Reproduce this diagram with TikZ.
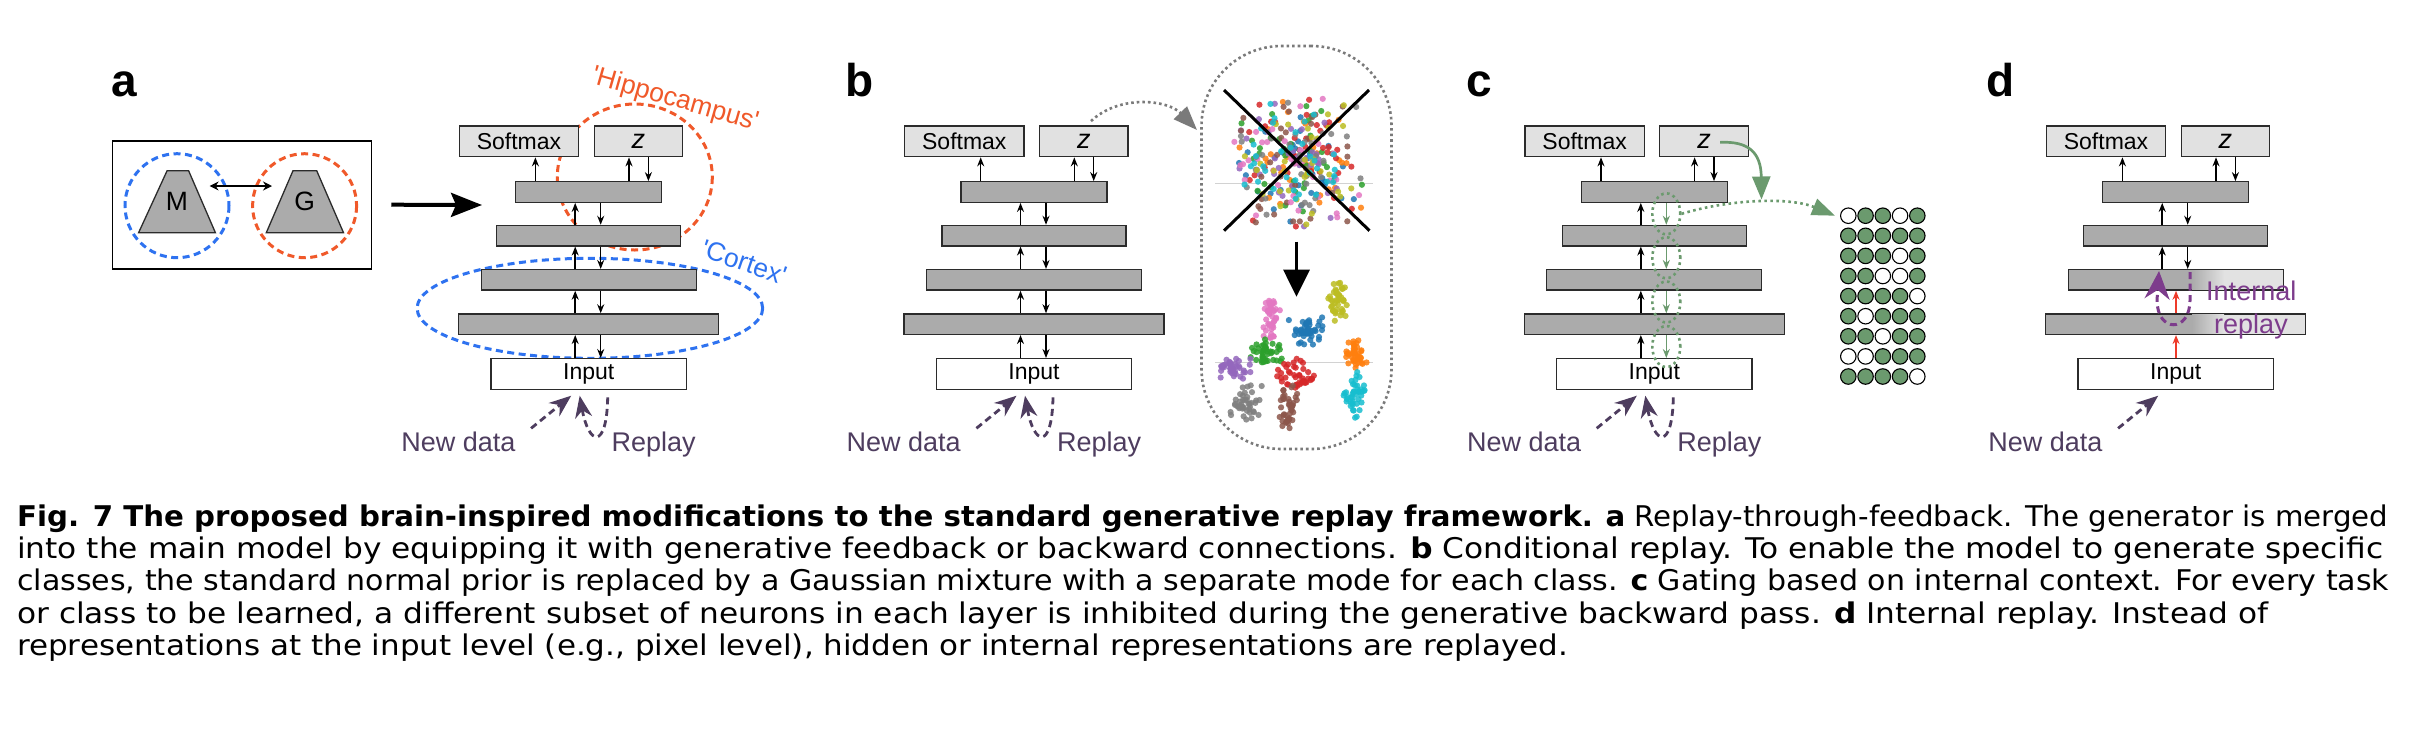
\documentclass[tikz,border=0pt]{standalone}
\usepackage{fontspec}
\usepackage{graphicx}
\setmainfont{Liberation Sans}
\newfontfamily\capfont{DejaVu Sans}
\usetikzlibrary{arrows.meta,shapes.geometric,calc}

\definecolor{laygray}{HTML}{ABABAB}
\definecolor{boxgray}{HTML}{E1E1E1}
\definecolor{edgegray}{HTML}{2B2B2B}
\definecolor{hipred}{HTML}{F0592A}
\definecolor{cortblue}{HTML}{2E72F0}
\definecolor{datpurple}{HTML}{4E3D5F}
\definecolor{looppurple}{HTML}{7D3C8C}
\definecolor{gategreen}{HTML}{6B9A6E}
\definecolor{fwdred}{HTML}{EE3B2A}
\definecolor{dotgray}{HTML}{7A7A7A}
\colorlet{fadegray}{laygray!35!white}
\colorlet{cell0}{white}
\colorlet{cell1}{gategreen}
% scatter colours
\definecolor{tblue}{HTML}{1F77B4}
\definecolor{torange}{HTML}{FF7F0E}
\definecolor{tgreen}{HTML}{2CA02C}
\definecolor{tred}{HTML}{D62728}
\definecolor{tpurple}{HTML}{9467BD}
\definecolor{tbrown}{HTML}{8C564B}
\definecolor{tpink}{HTML}{E377C2}
\definecolor{tgray}{HTML}{7F7F7F}
\definecolor{tolive}{HTML}{BCBD22}
\definecolor{tcyan}{HTML}{17BECF}

\tikzset{
  layer/.style={draw=edgegray, fill=laygray, line width=1.3pt, inner sep=0pt, minimum height=20.5pt},
  outbox/.style={draw=edgegray, fill=boxgray, line width=1.3pt, inner sep=0pt, minimum height=30.7pt, font=\fontsize{23}{23}\selectfont},
  inbox/.style={outbox, fill=white},
  fwd/.style={line width=1.5pt, -{Stealth[length=9pt,width=7pt]}},
  redfwd/.style={fwd, fwdred},
  datarrow/.style={datpurple, line width=2.8pt, dash pattern=on 7pt off 4.5pt, -{Stealth[length=22pt,width=17pt]}},
  datlabel/.style={text=datpurple, font=\fontsize{27}{27}\selectfont, anchor=base west, inner sep=0pt},
  panlabel/.style={font=\bfseries\fontsize{46}{46}\selectfont, anchor=base west, inner sep=0pt},
  ring/.style={line width=3pt, dash pattern=on 7pt off 4.5pt},
  tag/.style={font=\fontsize{26.5}{26.5}\selectfont, inner sep=0pt},
  gatering/.style={ellipse, draw=gategreen, line width=2.6pt, dash pattern=on 2.6pt off 3.4pt, minimum width=28pt, minimum height=41pt, inner sep=0pt},
  gatearrow/.style={gategreen, line width=1.5pt, -{Stealth[length=9pt,width=7pt]}},
  gatedot/.style={gategreen, line width=2.6pt, dash pattern=on 2.6pt off 3.4pt, -{Triangle[length=23pt,width=17pt]}},
  gatesolid/.style={gategreen, line width=2.7pt, -{Triangle[length=23pt,width=18pt]}},
  cell/.style={circle, draw=black, line width=1.1pt, minimum size=15.5pt, inner sep=0pt},
  looptext/.style={text=looppurple, font=\fontsize{27}{27}\selectfont, anchor=base west, inner sep=0pt},
  loopdash/.style={looppurple, line width=3pt, dash pattern=on 7pt off 4.5pt, -{Stealth[length=28pt,width=25pt]}},
  capline/.style={anchor=base west, inner sep=0pt},
}

% one network column: #1 prefix, #2 centre x
\newcommand{\drawnet}[2]{%
  \node[outbox, minimum width=119.3pt] (#1-sm) at ({#2-69.7},141.35) {Softmax};
  \node[outbox, minimum width=88.5pt] (#1-z) at ({#2+49.75},141.35) {\fontsize{27}{27}\selectfont\itshape z};
  \node[layer, minimum width=146pt] (#1-l1) at (#2,192) {};
  \node[layer, minimum width=184pt] (#1-l2) at (#2,235.65) {};
  \node[layer, minimum width=215pt] (#1-l3) at (#2,279.85) {};
  \node[layer, minimum width=260pt] (#1-l4) at (#2,324.15) {};
  \node[inbox, minimum width=195.5pt] (#1-in) at (#2,374) {Input};
  \coordinate (#1-up) at ({#2-13.5},0);
  \coordinate (#1-dn) at ({#2+12},0);
  \coordinate (#1-mid) at ({#2+0.3},0);
  \coordinate (#1-smx) at ({#2-53.3},0);
  \coordinate (#1-zup) at ({#2+40.3},0);
  \coordinate (#1-zdn) at ({#2+59.7},0);
  \draw[fwd] (#1-l1.north -| #1-smx) -- (#1-sm.south -| #1-smx);
  \draw[fwd] (#1-l1.north -| #1-zup) -- (#1-z.south -| #1-zup);
  \draw[fwd] (#1-z.south -| #1-zdn) -- (#1-l1.north -| #1-zdn);
}

% caption line stretched to a given width
\newlength\capw
\newcommand{\capsize}{\capfont\fontsize{28.5}{32}\selectfont}
\newcommand{\capfit}[2]{\settowidth{\capw}{\capsize #2}\pgfmathsetmacro{\capr}{#1/\capw}\scalebox{\capr}[1]{\capsize #2}}

\begin{document}
\begin{tikzpicture}[x=1pt,y=-1pt]
\fill[white] (0,0) rectangle (2416,740);
\useasboundingbox (0,0) rectangle (2416,740);

% panel letters
\node[panlabel] (alab) at (111,96.7) {a};
\node[panlabel] (blab) at (845.7,96.7) {b};
\node[panlabel] (clab) at (1466.7,96.7) {c};
\node[panlabel] (dlab) at (1986.7,96.7) {d};

% ---- a: model and generator
\node[draw=black, line width=1.6pt, minimum width=259pt, minimum height=128pt, inner sep=0pt] (mgbox) at (242.15,204.7) {};
\draw[ring, cortblue] (177,205.7) circle (52);
\draw[ring, hipred] (304.6,205.7) circle (52);
\draw[draw=edgegray, fill=laygray, line width=1.3pt] (138.6,232.7) -- (167.1,170.7) -- (188.6,170.7) -- (215.4,232.7) -- cycle;
\draw[draw=edgegray, fill=laygray, line width=1.3pt] (266.3,232.7) -- (293,170.7) -- (316.7,170.7) -- (343.5,232.7) -- cycle;
\node[tag] (mlab) at (177,201.2) {M};
\node[tag] (glab) at (304.6,201.2) {G};
\coordinate (mg-m) at (209.6,186);
\coordinate (mg-g) at (272,186);
\draw[line width=1.5pt, {Stealth[length=9pt,width=9pt]}-{Stealth[length=9pt,width=9pt]}] (mg-m) -- (mg-g);
\coordinate (a-goal) at (482,205);
\draw[line width=4pt, -{Stealth[length=31pt,width=24pt,inset=5pt]}] ([xshift=18.8pt]mgbox.east) -- (a-goal);

\draw[ring, hipred] (634.8,177) ellipse [x radius=77.5, y radius=73];
\draw[ring, cortblue] (589.9,308.3) ellipse [x radius=172.8, y radius=50];
\node[tag, hipred, rotate=-16] (hiplab) at (675,100) {\textquotesingle Hippocampus\textquotesingle};
\node[tag, cortblue, rotate=-19] (cortlab) at (744,262) {\textquotesingle Cortex\textquotesingle};

% ---- the four networks
\drawnet{a}{588.7}
\drawnet{b}{1034}
\drawnet{c}{1654.3}
\drawnet{d}{2175.7}

\foreach \p in {a,b} {
  \foreach \lo/\hi in {l2/l1,l3/l2,l4/l3,in/l4} {
    \draw[fwd] (\p-\lo.north -| \p-up) -- (\p-\hi.south -| \p-up);
    \draw[fwd] (\p-\hi.south -| \p-dn) -- (\p-\lo.north -| \p-dn);
  }
}

% inputs
\foreach \p/\cx in {a/588.7,b/1034,c/1654.3,d/2175.7} {
  \coordinate (\p-src) at ({\cx-57.6},428.3);
  \draw[datarrow] (\p-src) -- ([xshift=-17.5pt,yshift=-5.7pt]\p-in.south);
  \node[datlabel] (\p-ndlab) at ({\cx-187.5},451.5) {New data};
}
\foreach \p/\cx in {a/588.7,b/1034,c/1654.3} {
  \draw[datarrow] ([xshift=19pt,yshift=-7.4pt]\p-in.south) .. controls +(-1,53) and +(9,50) .. ([xshift=-9pt,yshift=-5.7pt]\p-in.south);
  \node[datlabel] (\p-rplab) at ({\cx+22.8},451.5) {Replay};
}

% ---- b: latent space
\node[draw=dotgray, line width=2.6pt, dash pattern=on 2.6pt off 3pt, rounded corners=80pt, minimum width=190pt, minimum height=403pt, inner sep=0pt] (b-view) at (1296.5,247.5) {};
\coordinate (b-goal) at (1197,130);
\draw[dotgray, line width=2.6pt, dash pattern=on 2.6pt off 3pt, -{Triangle[length=24pt,width=18pt]}] ([xshift=7.25pt,yshift=4.3pt]b-z.north) .. controls (1120,94) and (1168,100) .. (b-goal);
\draw[gray!35, line width=1pt] (1215,183.3) -- (1373,183.3);
\draw[gray!35, line width=1pt] (1215,362.7) -- (1373,362.7);
\pgfmathsetseed{11}
\foreach \c in {tblue,torange,tgreen,tred,tpurple,tbrown,tpink,tgray,tolive,tcyan} {
  \foreach \i in {1,...,34} {
    \fill[\c, opacity=.85] ({1298+36*(rand+rand)},{162+35*(rand+rand)}) circle (3.1);
  }
}
\draw[line width=3pt] (1224,90) -- (1369.5,230.7);
\draw[line width=3pt] (1369,90) -- (1224,230.7);
\draw[line width=3pt, -{Triangle[length=27pt,width=26pt]}] (1296.5,241.7) -- (1296.5,296.7);
\foreach \c/\px/\py/\sx/\sy in {tolive/1338/300/5/12, tpink/1271/321/5/13, tblue/1306/331/10/8, tgreen/1267/352/10/7, torange/1356/353/6/8, tpurple/1235/368/9/6, tred/1294/377/11/10, tcyan/1354/393/6/13, tgray/1246/403/10/12, tbrown/1289/407/5/14} {
  \foreach \i in {1,...,42} {
    \fill[\c, opacity=.85] ({\px+\sx*(rand+rand)},{\py+\sy*(rand+rand)}) circle (3.1);
  }
}

% ---- c: gating
\foreach \lo/\hi [count=\n] in {l2/l1,l3/l2,l4/l3,in/l4} {
  \draw[fwd] (c-\lo.north -| c-up) -- (c-\hi.south -| c-up);
  \draw[gatearrow] (c-\hi.south -| c-dn) -- (c-\lo.north -| c-dn);
  \node[gatering] (cg\n) at ($(c-\hi.south -| c-dn)!0.5!(c-\lo.north -| c-dn)$) {};
}
\foreach \row [count=\r] in {{0,1,1,0,1},{1,1,1,1,1},{1,1,1,0,1},{1,1,0,0,1},{1,1,1,1,0},{1,0,1,1,1},{1,1,0,1,1},{0,0,1,1,1},{1,1,1,1,0}} {
  \foreach \v [count=\k] in \row {
    \node[cell, fill=cell\v] (cc-\r-\k) at ({1831.05+17.25*\k},{195.6+20.1*\r}) {};
  }
}
\draw[gatedot] (cg1.east) .. controls (1730,199) and (1790,197) .. ([xshift=-5pt]cc-1-1.west);
\coordinate (c-gate) at (1761.5,199.5);
\draw[gatesolid] ([xshift=16pt,yshift=-1pt]c-z.center) .. controls (1748,141) and (1761,152) .. (c-gate);

% ---- d: internal replay
\foreach \lo/\hi in {l2/l1,l3/l2} {
  \draw[fwd] (d-\lo.north -| d-up) -- (d-\hi.south -| d-up);
  \draw[fwd] (d-\hi.south -| d-dn) -- (d-\lo.north -| d-dn);
}
\foreach \lo/\hi in {l4/l3,in/l4} {
  \draw[redfwd] (d-\lo.north -| d-mid) -- (d-\hi.south -| d-mid);
}
\shade[left color=laygray, right color=fadegray] (2192,270.3) rectangle (2224,289.4);
\fill[fadegray] (2223.5,270.3) rectangle (2282.5,289.4);
\shade[left color=laygray, right color=fadegray] (2192,314.7) rectangle (2224,333.6);
\fill[fadegray] (2223.5,314.7) rectangle (2305,333.6);
\coordinate (d-loopa) at (2190,272);
\coordinate (d-loopb) at (2159,271);
\draw[loopdash] (d-loopa) -- (2190,300) .. controls (2190,333) and (2157,333) .. (2157,300) -- (d-loopb);
\node[looptext] (d-int) at (2206,300) {Internal};
\node[looptext] (d-rep) at (2214,333.3) {replay};

% ---- caption
\node[capline] (cap1) at (17,526.7) {\capfit{2371pt}{\textbf{Fig. 7 The proposed brain-inspired modifications to the standard generative replay framework.} \textbf{a} Replay-through-feedback. The generator is merged}};
\node[capline] (cap2) at (17,558.8) {\capfit{2366pt}{into the main model by equipping it with generative feedback or backward connections. \textbf{b} Conditional replay. To enable the model to generate specific}};
\node[capline] (cap3) at (17,590.9) {\capfit{2372pt}{classes, the standard normal prior is replaced by a Gaussian mixture with a separate mode for each class. \textbf{c} Gating based on internal context. For every task}};
\node[capline] (cap4) at (17,623) {\capfit{2251pt}{or class to be learned, a different subset of neurons in each layer is inhibited during the generative backward pass. \textbf{d} Internal replay. Instead of}};
\node[capline] (cap5) at (17,655.1) {\capfit{1551pt}{representations at the input level (e.g., pixel level), hidden or internal representations are replayed.}};
\end{tikzpicture}
\end{document}
